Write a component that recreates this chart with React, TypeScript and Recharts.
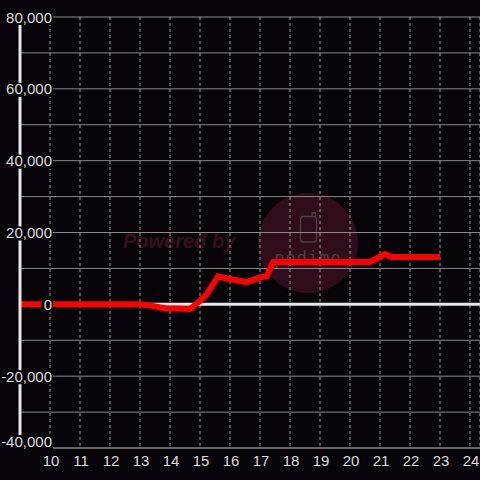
import React from 'react';
import { LineChart, Line, XAxis, YAxis, CartesianGrid, ReferenceLine } from 'recharts';

const hours = [9, 13, 13.33, 13.83, 14.67, 15.0, 15.22, 15.6, 15.9, 16.55, 17.0, 17.22, 17.44, 20.67, 21.17, 21.4, 23.0];
const profit = [0, 0, -300, -1100, -1300, 1000, 2800, 7800, 7200, 6200, 7500, 7800, 11800, 11800, 14000, 13200, 13200];
const xTicks = [10, 11, 12, 13, 14, 15, 16, 17, 18, 19, 20, 21, 22, 23, 24];
const yTicks = [-40000, -30000, -20000, -10000, 0, 10000, 20000, 30000, 40000, 50000, 60000, 70000, 80000];
const yLabelled = [-40000, -20000, 0, 20000, 40000, 60000, 80000];

const data = hours.map((h, i) => ({ h, v: profit[i] }));

const BG = '#060409';
const FONT = '"Liberation Sans", Arial, sans-serif';

const charW = (c: string) => (c === ',' ? 4.17 : c === '-' ? 5 : 8.34);

const YTick = (props: any) => {
  const { payload } = props;
  const v = payload.value;
  if (!yLabelled.includes(v)) return <g />;
  // the lowest label is lifted to stay inside the plot
  const y = v === yTicks[0] ? props.y - 7 : props.y;
  const label = v.toLocaleString('en-US');
  const w = label.split('').reduce((s: number, c: string) => s + charW(c), 0);
  const right = 52;
  return (
    <g>
      <rect x={right - w - 2} y={y - 6} width={w + 3} height={v === yTicks[0] ? 15 : 14} fill={BG} />
      <text x={right} y={y} dy={5.5} textAnchor="end" fill="#dcdcdc" fontSize={15} fontFamily={FONT}>
        {label}
      </text>
    </g>
  );
};

const XTick = (props: any) => {
  const { x, payload } = props;
  return (
    <text x={x + 1} y={466} textAnchor="middle" fill="#dcdcdc" fontSize={15} fontFamily={FONT}>
      {payload.value}
    </text>
  );
};

export default function App() {
  return (
    <div style={{ position: 'absolute', left: 0, top: 0, width: 480, height: 480, background: BG, overflow: 'hidden' }}>
      <svg width={480} height={480} style={{ position: 'absolute', left: 0, top: 0 }}>
        <text x={123} y={248} fill="#3a0f20" fontSize={20} fontWeight="bold" fontStyle="italic" fontFamily={FONT}>
          Powered by
        </text>
        <circle cx={308} cy={243} r={50} fill="#2f0d1d" />
        <rect x={300.5} y={216.5} width={16} height={25.5} rx={3} fill="none" stroke="#484048" strokeWidth={1.3} />
        <path d="M312 216.5 V213 H315.5 V216.5" fill="none" stroke="#484048" strokeWidth={1.3} />
        <text x={308} y={264} textAnchor="middle" fill="#484048" fontSize={17} fontFamily='"DejaVu Sans Mono", monospace' letterSpacing={1}>
          podimo
        </text>
      </svg>
      <div style={{ position: 'absolute', left: 0, top: 0 }}>
        <LineChart width={480} height={480} data={data} margin={{ top: 17, right: 0, bottom: 0, left: 19 }}>
          <CartesianGrid horizontal vertical={false} stroke="#8a8a8a" />
          <CartesianGrid horizontal={false} vertical stroke="#9a9a9a" strokeDasharray="3 3" />
          <XAxis
            dataKey="h"
            type="number"
            domain={[9, 24.3333]}
            ticks={xTicks}
            allowDataOverflow
            interval={0}
            tickLine={false}
            axisLine={{ stroke: '#8a8a8a' }}
            height={32}
            tick={XTick}
          />
          <YAxis
            type="number"
            domain={[-40000, 80000]}
            ticks={yTicks}
            interval={0}
            width={1}
            tickLine={false}
            axisLine={{ stroke: '#e6e6e6', strokeWidth: 3 }}
            tick={YTick}
          />
          <ReferenceLine y={0} stroke="#e6e6e6" strokeWidth={3} />
          <Line type="linear" dataKey="v" stroke="#ff0000" strokeWidth={6} dot={false} isAnimationActive={false} />
        </LineChart>
      </div>
    </div>
  );
}
